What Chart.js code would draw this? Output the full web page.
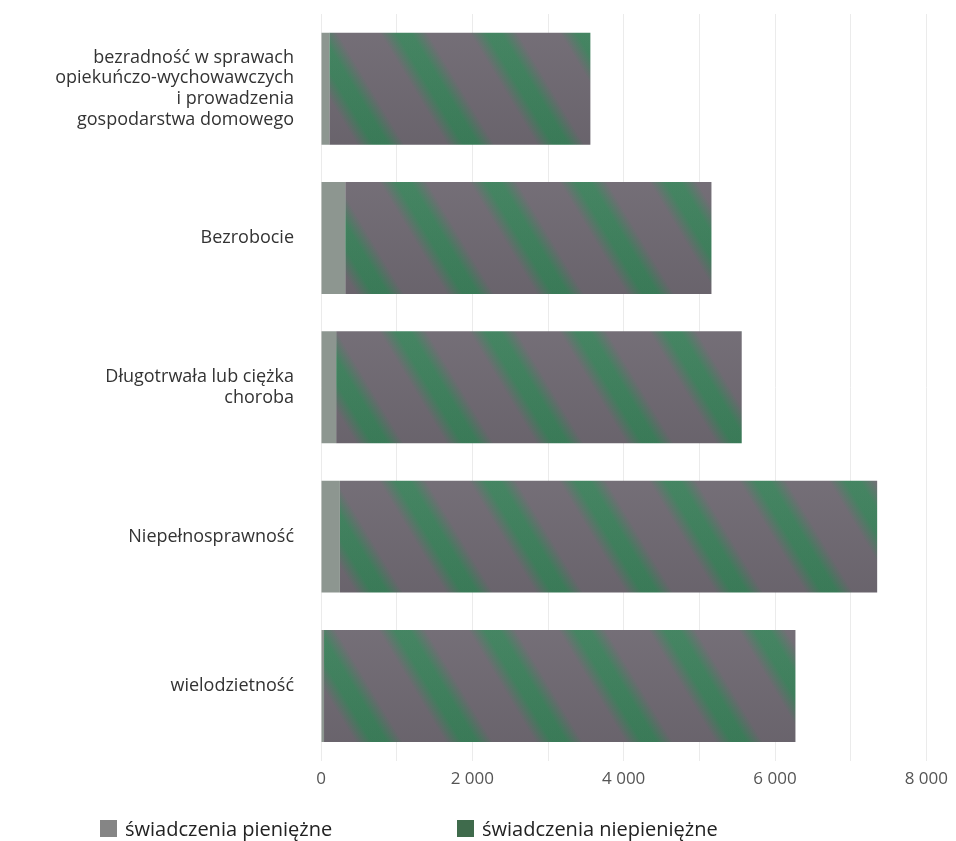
<!DOCTYPE html>
<html>
<head>
<meta charset="utf-8">
<script src="https://cdn.jsdelivr.net/npm/chart.js@4.4.1/dist/chart.umd.min.js"></script>
<style>
  html, body { margin: 0; padding: 0; background: #ffffff; }
  #wrap { position: relative; width: 956px; height: 841px; }
  #chart { position: absolute; left: 0; top: 0; }
  #legend { position: absolute; left: 0; top: 814px; width: 956px; height: 28px;
            font-family: "Open Sans", "Noto Sans", sans-serif; font-size: 20px; color: #222; }
  .item { position: absolute; top: 0; display: flex; align-items: center; height: 28px; white-space: nowrap; }
  .box { width: 17px; height: 17px; margin-right: 8px; }
</style>
</head>
<body>
<div id="wrap">
  <canvas id="chart" width="956" height="841"></canvas>
  <div id="legend"></div>
</div>
<script>
const categories = [
  ["bezradność w sprawach", "opiekuńczo-wychowawczych", "i prowadzenia", "gospodarstwa domowego"],
  "Bezrobocie",
  ["Długotrwała lub ciężka", "choroba"],
  "Niepełnosprawność",
  "wielodzietność"
];
const seriesNames = ["świadczenia pieniężne", "świadczenia niepieniężne"];
const pieniezne = [110, 320, 200, 250, 40];
const niepieniezne = [3450, 4840, 5360, 7100, 6230];
const xTicks = [0, 2000, 4000, 6000, 8000];

function makePattern() {
  const c = document.createElement('canvas');
  c.width = 180; c.height = 150;
  const g = c.getContext('2d');
  g.fillStyle = '#6f6972';
  g.fillRect(0, 0, c.width, c.height);
  // soft diagonal green bands (seamless: shift of one period over tile height)
  for (let k = -3; k < 5; k++) {
    const x0 = k * 90;
    const grd = g.createLinearGradient(x0, 0, x0 + 48, 0);
    grd.addColorStop(0, 'rgba(42,138,84,0)');
    grd.addColorStop(0.35, 'rgba(42,138,84,0.72)');
    grd.addColorStop(0.65, 'rgba(42,138,84,0.72)');
    grd.addColorStop(1, 'rgba(42,138,84,0)');
    g.save();
    g.setTransform(1, 0, 90 / 150, 1, 0, 0);
    g.fillStyle = grd;
    g.fillRect(x0, 0, 48, 150);
    g.restore();
  }
  const sh = g.createLinearGradient(0, 0, 0, 150);
  sh.addColorStop(0, 'rgba(255,255,255,0.06)');
  sh.addColorStop(1, 'rgba(0,0,0,0.06)');
  g.fillStyle = sh;
  g.fillRect(0, 0, c.width, c.height);
  return g.createPattern(c, 'repeat');
}

const colPien = '#8d9690';
const colNiePattern = makePattern();
const legendColors = ['#858585', '#3f6b4c'];

const fmt = v => String(v).replace(/\B(?=(\d{3})+(?!\d))/g, ' ');

new Chart(document.getElementById('chart'), {
  type: 'bar',
  data: {
    labels: categories,
    datasets: [
      { label: seriesNames[0], data: pieniezne, backgroundColor: colPien, borderWidth: 0,
        categoryPercentage: 1, barPercentage: 0.75 },
      { label: seriesNames[1], data: niepieniezne, backgroundColor: colNiePattern, borderWidth: 0,
        categoryPercentage: 1, barPercentage: 0.75 }
    ]
  },
  options: {
    indexAxis: 'y',
    responsive: false,
    animation: false,
    layout: { padding: { top: 14, right: 28, bottom: 44, left: 0 } },
    plugins: { legend: { display: false }, tooltip: { enabled: false } },
    scales: {
      x: {
        stacked: true,
        min: 0, max: 8000,
        border: { display: false },
        grid: { color: '#ebebeb', lineWidth: 1, drawTicks: false },
        ticks: {
          stepSize: 1000,
          padding: 8,
          color: '#555',
          font: { family: '"Open Sans", "Noto Sans", sans-serif', size: 17 },
          callback: v => xTicks.includes(v) ? fmt(v) : ''
        }
      },
      y: {
        stacked: true,
        border: { display: false },
        grid: { display: false, drawTicks: false },
        afterFit: s => { s.width = 321; s.paddingTop = 0; s.paddingBottom = 0; },
        ticks: {
          padding: 27,
          color: '#333',
          font: { family: '"Open Sans", "Noto Sans", sans-serif', size: 18, lineHeight: 1.15 }
        }
      }
    }
  }
});

const leg = document.getElementById('legend');
const legendX = [100, 457];
seriesNames.forEach((name, i) => {
  const it = document.createElement('div');
  it.className = 'item';
  it.style.left = legendX[i] + 'px';
  const b = document.createElement('span');
  b.className = 'box';
  b.style.background = legendColors[i];
  const t = document.createElement('span');
  t.textContent = name;
  it.appendChild(b); it.appendChild(t);
  leg.appendChild(it);
});
</script>
</body>
</html>
